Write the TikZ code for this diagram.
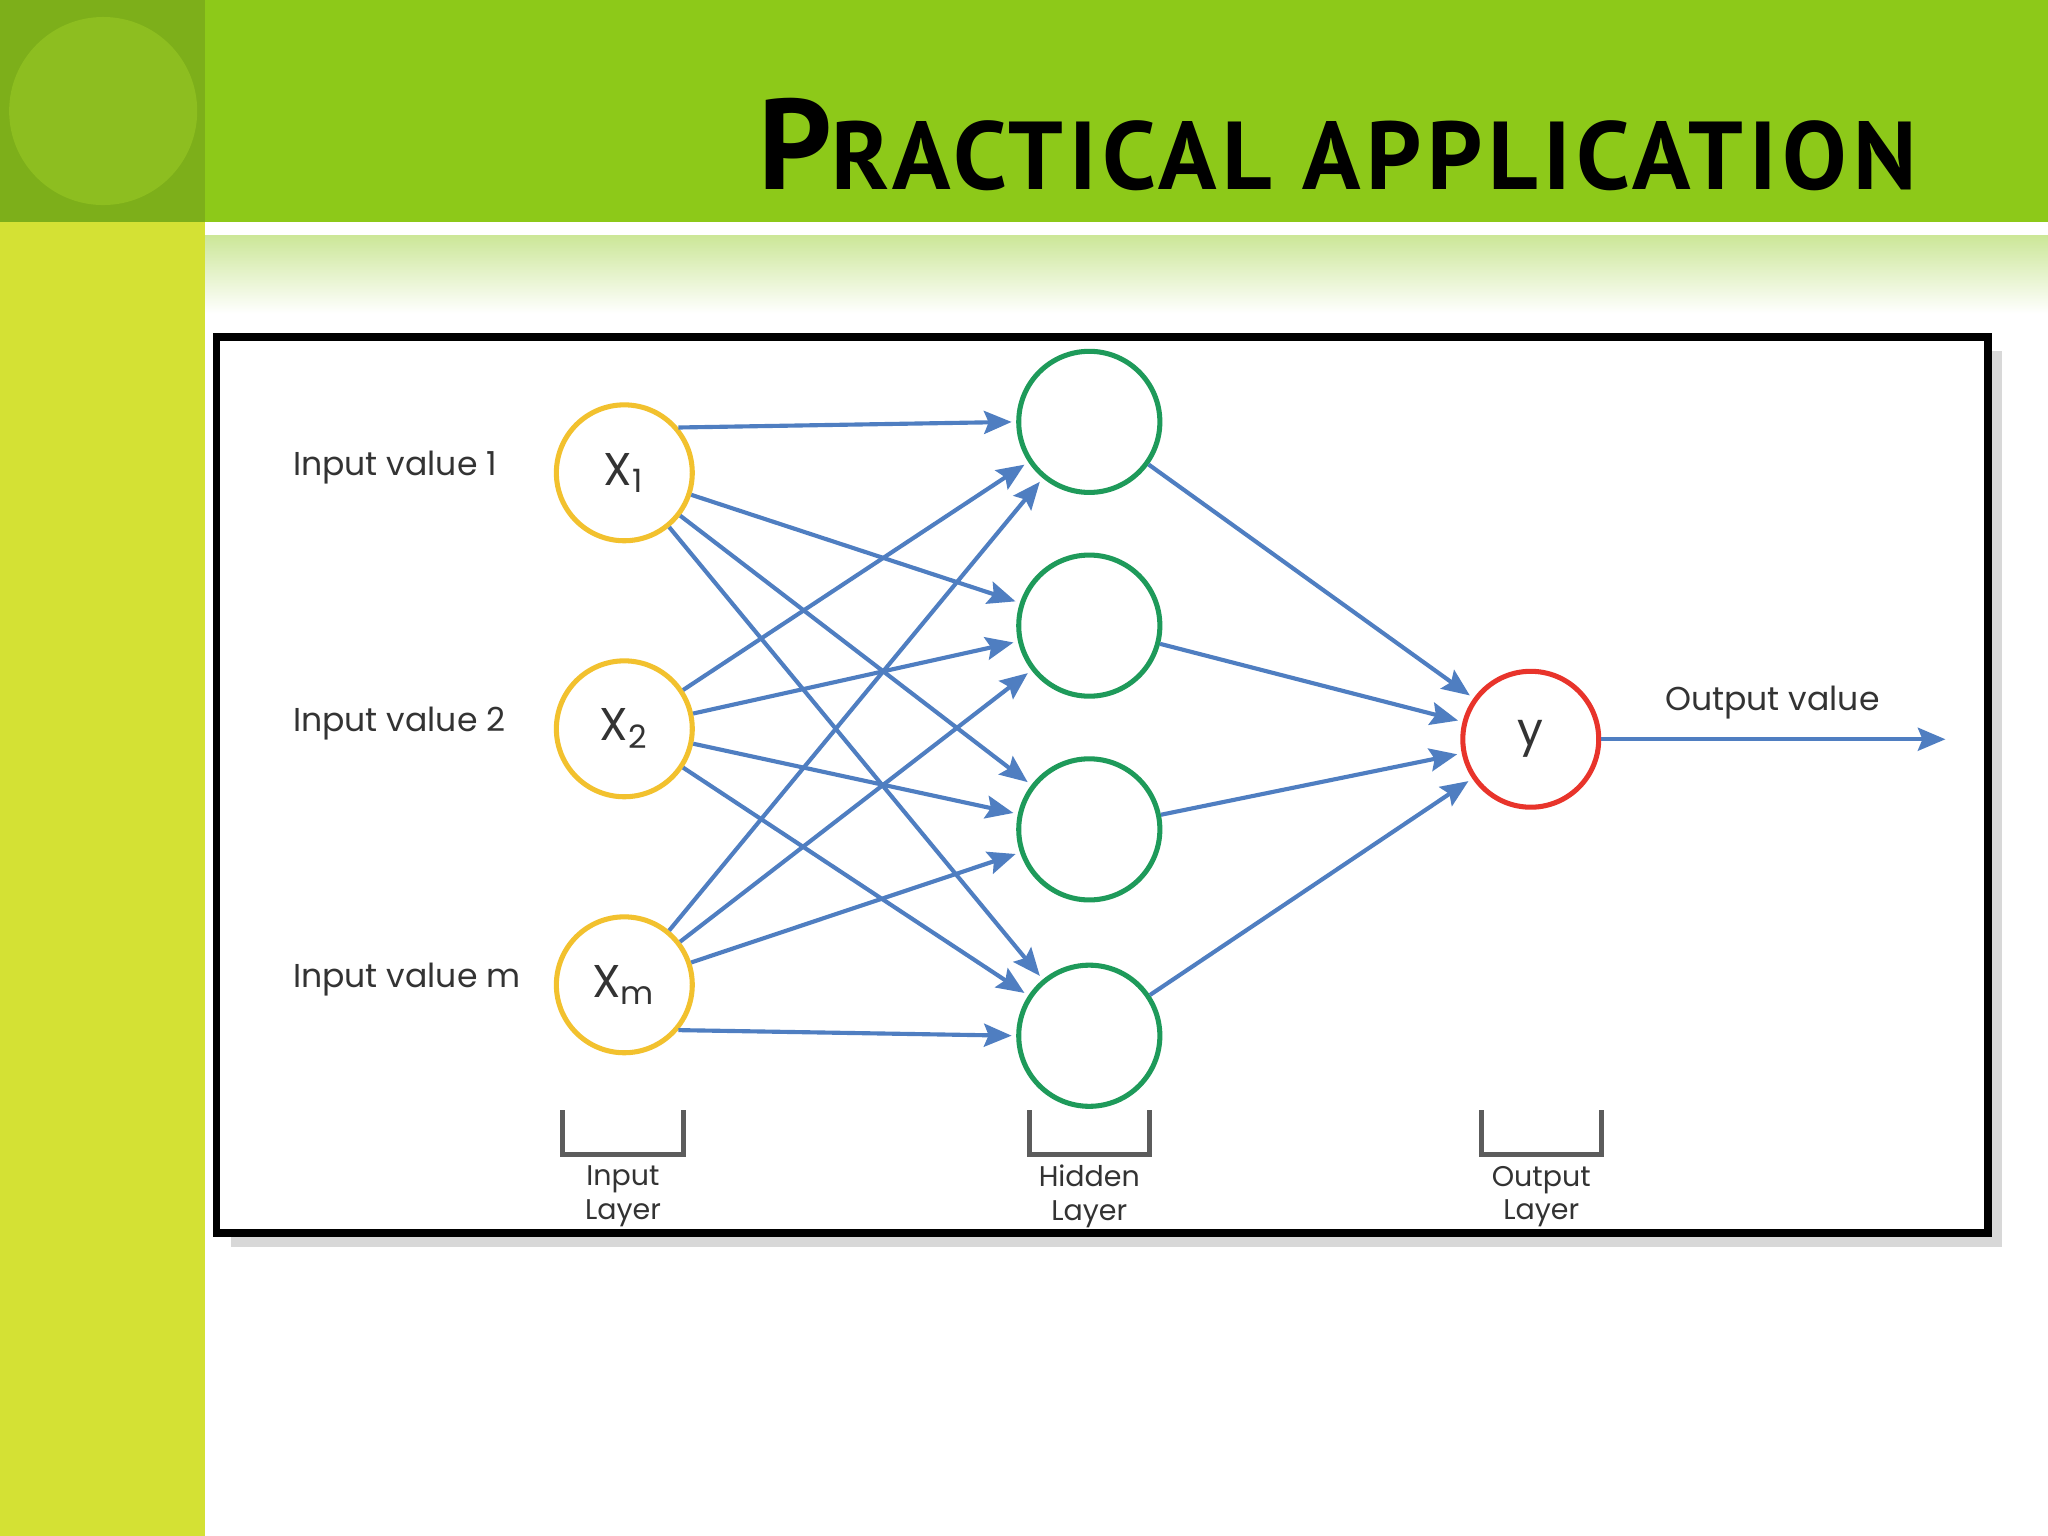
\documentclass[tikz,border=0pt]{standalone}
\usepackage{fontspec}
\setmainfont{PT Sans}
\newfontfamily\lab{Poppins}
\newfontfamily\ttl[LetterSpace=6]{PT Sans}
\usetikzlibrary{arrows.meta,shadows}
\definecolor{barL}{HTML}{D4E134}
\definecolor{barT}{HTML}{8DC919}
\definecolor{sq}{HTML}{7DAF1A}
\definecolor{sqc}{HTML}{8DBE20}
\definecolor{yel}{HTML}{F2C12E}
\definecolor{grn}{HTML}{1E9A5A}
\definecolor{rd}{HTML}{E8342B}
\definecolor{blu}{HTML}{4F7EC1}
\definecolor{txt}{HTML}{333333}
\begin{document}
\begin{tikzpicture}[x=0.01cm,y=-0.01cm,
  neu/.style={circle,line width=1.1pt,minimum size=1.04cm,fill=white,font=\lab\fontsize{10}{10}\selectfont,text=txt},
  inn/.style={neu,draw=yel},hid/.style={neu,draw=grn,minimum size=1.08cm},outn/.style={neu,draw=rd},
  ed/.style={draw=blu,line width=0.9pt,-{Stealth[length=6pt,width=5pt,inset=1pt]},shorten >=1pt},
  lbl/.style={font=\lab\fontsize{7.2}{8}\selectfont,text=txt},
  sm/.style={font=\lab\fontsize{6.2}{7.3}\selectfont,text=txt,align=center},
  br/.style={draw=txt!80,line width=1.1pt}]
\useasboundingbox (0,0) rectangle (1568,1176);
\fill[white] (0,0) rectangle (1568,1176);
\fill[barL] (0,0) rectangle (157,1176);
\fill[barT] (157,0) rectangle (1568,170);
\fill[sq] (0,0) rectangle (157,170);
\fill[sqc] (79,85) circle (72);
\shade[top color=barT!45,bottom color=white] (157,180) rectangle (1568,240);
\node[anchor=base east,inner sep=0,font=\ttl\bfseries\fontsize{28}{28}\selectfont] (title) at (1468,145) {P{\fontsize{21}{21}\selectfont RACTICAL APPLICATION}};
\draw[line width=1.6pt,fill=white,drop shadow={opacity=0.3,shadow xshift=3pt,shadow yshift=-3pt}] (166,258) rectangle (1522,944);
\node[inn] (x1) at (478,362) {X\textsubscript{1}};
\node[inn] (x2) at (478,558) {X\textsubscript{2}};
\node[inn] (xm) at (478,754) {X\textsubscript{m}};
\node[hid] (h1) at (834,323) {};
\node[hid] (h2) at (834,479) {};
\node[hid] (h3) at (834,635) {};
\node[hid] (h4) at (834,793) {};
\node[outn] (y) at (1172,566) {y};
\node[lbl,anchor=west] (l1) at (212,358) {Input value 1};
\node[lbl,anchor=west] (l2) at (212,554) {Input value 2};
\node[lbl,anchor=west] (l3) at (212,750) {Input value m};
\node[lbl] (ov) at (1357,538) {Output value};
\coordinate (oe) at (1493,566);
\draw[ed] (x1.40) -- (h1.west);
\draw[ed] (xm.-40) -- (h4.west);
\foreach \i/\h in {x1/h2,x1/h3,x1/h4,x2/h1,x2/h2,x2/h3,x2/h4,xm/h1,xm/h2,xm/h3}{\draw[ed] (\i) -- (\h);}
\foreach \h in {h1,h2,h3,h4}{\draw[ed] (\h) -- (y);}
\draw[ed] (y) -- (oe);
\foreach \c/\t [count=\k] in {477/Input\\Layer,834/Hidden\\Layer,1180/Output\\Layer}{
  \draw[br] (\c-46,850) -- (\c-46,884) -- (\c+46,884) -- (\c+46,850);
  \node[sm] (b\k) at (\c,916) {\t};}
\end{tikzpicture}
\end{document}
